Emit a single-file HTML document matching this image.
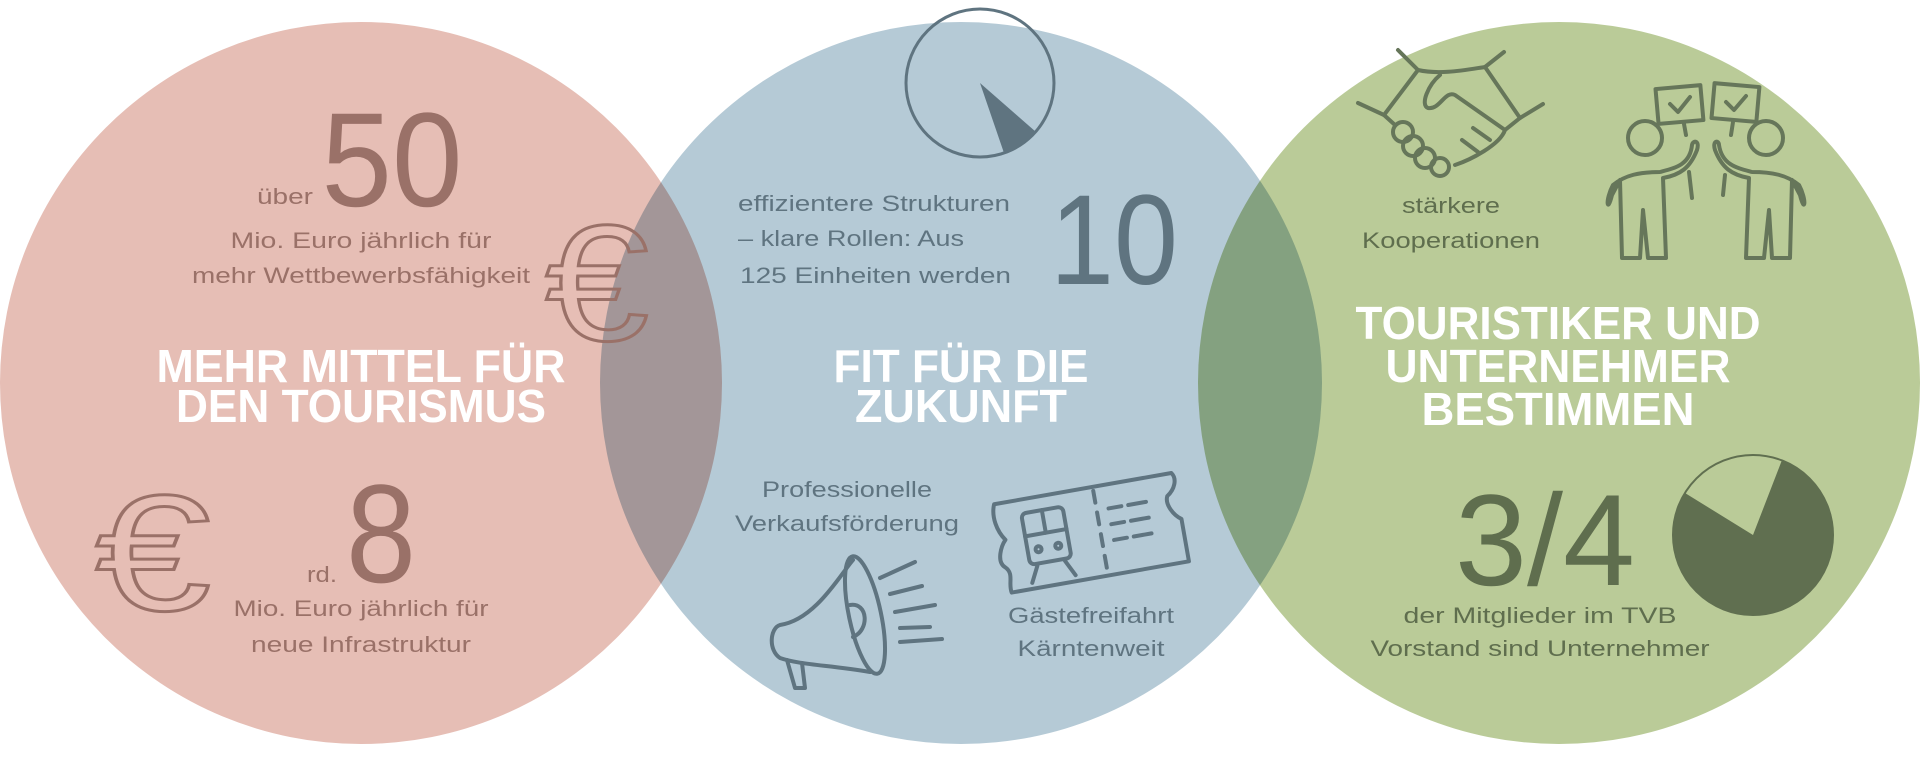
<!DOCTYPE html>
<html><head><meta charset="utf-8"><style>html,body{margin:0;padding:0;background:#fff;width:1920px;height:768px;overflow:hidden}</style></head>
<body>
<svg width="1920" height="768" viewBox="0 0 1920 768" xmlns="http://www.w3.org/2000/svg" font-family="Liberation Sans, sans-serif">
<g style="isolation:isolate">
<circle cx="361" cy="383" r="361" fill="#e6beb5"/>
<circle cx="961" cy="383" r="361" fill="#b5cad6" style="mix-blend-mode:multiply"/>
<circle cx="1559" cy="383" r="361" fill="#bacb98" style="mix-blend-mode:multiply"/>
</g>
<!-- LEFT -->
<g fill="#9a7168" text-anchor="middle" font-size="22">
<text x="285" y="204" textLength="56" lengthAdjust="spacingAndGlyphs">über</text>
<text x="392" y="206" font-size="134" textLength="141" lengthAdjust="spacingAndGlyphs">50</text>
<text x="361" y="248" textLength="261" lengthAdjust="spacingAndGlyphs">Mio. Euro jährlich für</text>
<text x="361" y="283" textLength="338" lengthAdjust="spacingAndGlyphs">mehr Wettbewerbsfähigkeit</text>
<text x="322" y="582" textLength="30" lengthAdjust="spacingAndGlyphs">rd.</text>
<text x="381" y="582" font-size="140" textLength="70" lengthAdjust="spacingAndGlyphs">8</text>
<text x="361" y="616" textLength="255" lengthAdjust="spacingAndGlyphs">Mio. Euro jährlich für</text>
<text x="361" y="652" textLength="220" lengthAdjust="spacingAndGlyphs">neue Infrastruktur</text>
</g>
<g fill="none" stroke="#9a7168" stroke-width="3" font-size="165" text-anchor="middle">
<text x="597" y="340" textLength="104" lengthAdjust="spacingAndGlyphs">€</text>
<text x="153" y="610" textLength="116" lengthAdjust="spacingAndGlyphs">€</text>
</g>
<g fill="#fff" font-weight="bold" font-size="46" text-anchor="middle">
<text x="361" y="382" textLength="409" lengthAdjust="spacingAndGlyphs">MEHR MITTEL FÜR</text>
<text x="361" y="422" textLength="370" lengthAdjust="spacingAndGlyphs">DEN TOURISMUS</text>
<text x="961" y="382" textLength="255" lengthAdjust="spacingAndGlyphs">FIT FÜR DIE</text>
<text x="961" y="422" textLength="212" lengthAdjust="spacingAndGlyphs">ZUKUNFT</text>
<text x="1558" y="339" textLength="405" lengthAdjust="spacingAndGlyphs">TOURISTIKER UND</text>
<text x="1558" y="382" textLength="345" lengthAdjust="spacingAndGlyphs">UNTERNEHMER</text>
<text x="1558" y="425" textLength="273" lengthAdjust="spacingAndGlyphs">BESTIMMEN</text>
</g>
<!-- MIDDLE -->
<g fill="#5f7480" font-size="22">
<text x="738" y="211" textLength="272" lengthAdjust="spacingAndGlyphs">effizientere Strukturen</text>
<text x="738" y="246" textLength="226" lengthAdjust="spacingAndGlyphs">– klare Rollen: Aus</text>
<text x="740" y="283" textLength="271" lengthAdjust="spacingAndGlyphs">125 Einheiten werden</text>
<text x="1050" y="284" font-size="128" textLength="128" lengthAdjust="spacingAndGlyphs">10</text>
<g text-anchor="middle">
<text x="847" y="497" textLength="170" lengthAdjust="spacingAndGlyphs">Professionelle</text>
<text x="847" y="531" textLength="224" lengthAdjust="spacingAndGlyphs">Verkaufsförderung</text>
<text x="1091" y="623" textLength="166" lengthAdjust="spacingAndGlyphs">Gästefreifahrt</text>
<text x="1091" y="656" textLength="147" lengthAdjust="spacingAndGlyphs">Kärntenweit</text>
</g>
</g>
<circle cx="980" cy="83" r="74" fill="none" stroke="#5f7480" stroke-width="3"/>
<path d="M980,83 L1036,132 A74,74 0 0 1 1004,153 Z" fill="#5f7480"/>
<!-- megaphone -->
<g fill="none" stroke="#5f7480" stroke-width="4" stroke-linecap="round" stroke-linejoin="round">
<path d="M853,560 C840,575 815,620 780,625 C770,628 768,650 780,658 C800,665 830,665 870,672"/>
<ellipse cx="865" cy="615" rx="16" ry="60" transform="rotate(-12 865 615)"/>
<path d="M850,605 C868,602 870,630 853,637"/>
<path d="M787,660 L795,688 L805,688 L802,663"/>
<path d="M880,578 L915,562 M890,594 L922,586 M895,612 L935,605 M900,628 L930,627 M900,642 L942,639"/>
</g>
<!-- ticket -->
<g fill="none" stroke="#5f7480" stroke-width="4" stroke-linecap="round" stroke-linejoin="round" transform="rotate(-10 1090 530)">
<path d="M1000,488 L1180,488 C1185,495 1180,505 1172,510 C1168,518 1175,530 1182,535 L1182,578 L1002,578 C1000,568 1008,560 1000,552 C992,545 1000,530 1005,525 C998,515 995,500 1000,488 Z"/>
<line x1="1100" y1="492" x2="1100" y2="574" stroke-dasharray="12 10"/>
<rect x="1025" y="502" width="42" height="52" rx="5"/>
<line x1="1046" y1="502" x2="1046" y2="525"/><line x1="1025" y1="525" x2="1067" y2="525"/>
<circle cx="1036" cy="540" r="3"/><circle cx="1056" cy="540" r="3"/>
<path d="M1032,556 L1024,572 M1060,556 L1068,572"/>
<path d="M1112,512 L1125,512 M1132,512 L1150,512 M1112,528 L1125,528 M1132,528 L1150,528 M1112,544 L1125,544 M1132,544 L1150,544"/>
</g>
<!-- RIGHT -->
<g fill="#5f6e4e" font-size="22" text-anchor="middle">
<text x="1451" y="213" textLength="98" lengthAdjust="spacingAndGlyphs">stärkere</text>
<text x="1451" y="248" textLength="178" lengthAdjust="spacingAndGlyphs">Kooperationen</text>
<text x="1545" y="585" font-size="130" textLength="180" lengthAdjust="spacingAndGlyphs">3/4</text>
<text x="1540" y="623" textLength="273" lengthAdjust="spacingAndGlyphs">der Mitglieder im TVB</text>
<text x="1540" y="656" textLength="339" lengthAdjust="spacingAndGlyphs">Vorstand sind Unternehmer</text>
</g>
<circle cx="1753" cy="535" r="80" fill="none" stroke="#606f50" stroke-width="2"/>
<path d="M1753,535 L1782,460 A80,80 0 1 1 1685,493 Z" fill="#606f50"/>
<!-- handshake -->
<g fill="none" stroke="#66765a" stroke-width="4" stroke-linecap="round" stroke-linejoin="round">
<path d="M1398,50 L1418,70 L1384,115 L1358,103"/>
<path d="M1504,52 L1485,67 L1520,118 L1543,104"/>
<path d="M1418,70 C1440,75 1465,70 1485,67"/>
<path d="M1384,115 L1395,125 M1520,118 L1505,130"/>
<path d="M1440,75 C1428,85 1420,105 1428,108 C1440,110 1445,90 1455,95 L1505,130 C1500,145 1470,160 1455,165"/>
<circle cx="1403" cy="132" r="10"/><circle cx="1413" cy="146" r="10"/><circle cx="1425" cy="158" r="10"/><circle cx="1440" cy="167" r="9"/>
<path d="M1473,128 L1490,140 M1462,140 L1478,152"/>
</g>
<!-- people -->
<g fill="none" stroke="#66765a" stroke-width="4" stroke-linecap="round" stroke-linejoin="round">
<rect x="1657" y="87" width="45" height="35" transform="rotate(-5 1680 105)"/>
<rect x="1713" y="85" width="45" height="35" transform="rotate(5 1735 102)"/>
<path d="M1670,104 L1678,112 L1690,97 M1726,102 L1734,110 L1746,96"/>
<path d="M1684,124 L1686,135 M1733,122 L1731,135"/>
<circle cx="1645" cy="138" r="17"/><circle cx="1766" cy="138" r="17"/>
<path d="M1692,145 C1690,165 1675,168 1660,172 C1640,172 1625,175 1613,185 C1605,200 1607,215 1612,195 L1620,180 L1622,258 L1640,258 L1643,210 L1648,258 L1666,258 L1663,178 C1680,175 1690,168 1697,150 C1700,140 1693,140 1692,145 Z"/>
<path d="M1719,145 C1722,165 1737,168 1752,172 C1772,172 1787,175 1799,185 C1807,200 1805,215 1800,195 L1792,180 L1790,258 L1772,258 L1769,210 L1764,258 L1746,258 L1749,178 C1732,175 1722,168 1715,150 C1712,140 1719,140 1719,145 Z"/>
<path d="M1689,172 L1692,198 M1725,175 L1723,195"/>
</g>
</svg>
</body></html>
